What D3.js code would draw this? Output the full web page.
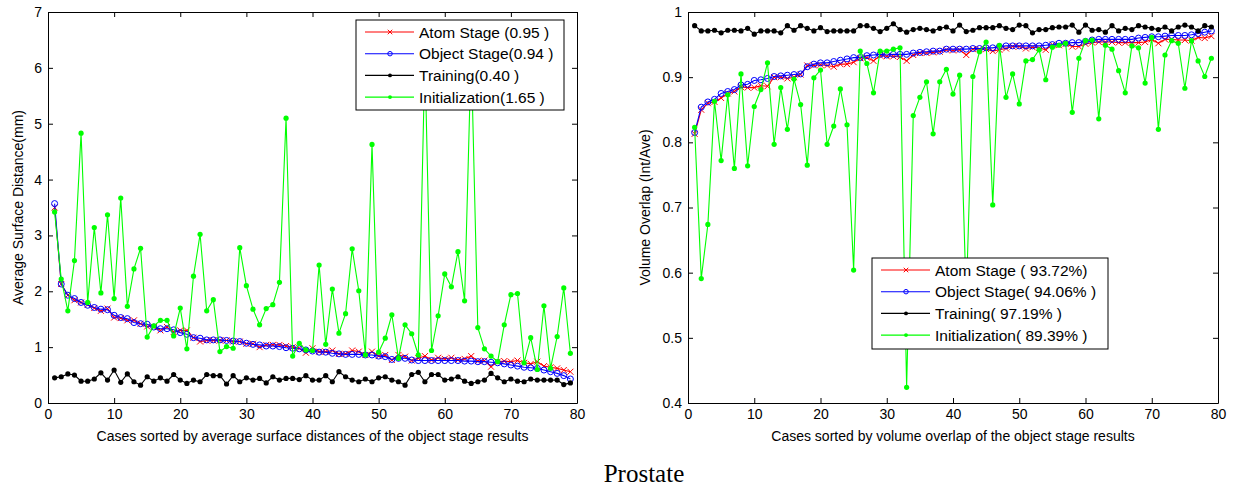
<!DOCTYPE html>
<meta charset="utf-8">
<script src="https://d3js.org/d3.v7.min.js"></script>
<style>
body { margin: 0; background: #fff; }
svg { display: block; }
text { font-family: Arial, 'Liberation Sans', sans-serif; fill: #000; }
.axis text { font-size: 14px; }
.axis path, .axis line { stroke: #000; }
.title { font-size: 14px; }
.legend text { font-size: 15.5px; }
.caption { font-family: 'Times New Roman', 'Liberation Serif', serif; font-size: 25px; }
</style>
<body>
<svg width="1236" height="486"></svg>
<script>
// case index 1..79
const cases = d3.range(1, 80);

// left panel: average surface distance (mm)
const asdAtom = [
  3.50, 2.13, 1.93, 1.84, 1.80, 1.76, 1.70, 1.65, 1.69, 1.53,
  1.52, 1.48, 1.48, 1.42, 1.37, 1.36, 1.30, 1.36, 1.27, 1.30,
  1.30, 1.17, 1.10, 1.12, 1.12, 1.12, 1.12, 1.10, 1.10, 1.06,
  1.06, 1.00, 1.04, 1.04, 1.04, 1.02, 1.00, 0.98, 0.90, 0.98,
  0.92, 0.92, 0.94, 0.88, 0.88, 0.94, 0.92, 0.86, 0.92, 0.84,
  0.86, 0.77, 0.86, 0.83, 0.76, 0.80, 0.84, 0.77, 0.81, 0.79,
  0.81, 0.77, 0.79, 0.84, 0.75, 0.76, 0.65, 0.74, 0.75, 0.74,
  0.76, 0.72, 0.70, 0.74, 0.66, 0.64, 0.62, 0.59, 0.56];
const asdObject = [
  3.57, 2.13, 1.93, 1.87, 1.80, 1.75, 1.71, 1.68, 1.67, 1.57,
  1.53, 1.51, 1.44, 1.42, 1.41, 1.36, 1.33, 1.33, 1.31, 1.26,
  1.23, 1.17, 1.16, 1.13, 1.13, 1.13, 1.12, 1.11, 1.10, 1.07,
  1.05, 1.04, 1.02, 1.02, 1.01, 0.99, 0.98, 0.97, 0.95, 0.93,
  0.91, 0.91, 0.89, 0.88, 0.87, 0.87, 0.87, 0.86, 0.86, 0.84,
  0.83, 0.78, 0.80, 0.80, 0.77, 0.76, 0.76, 0.76, 0.76, 0.76,
  0.76, 0.76, 0.75, 0.75, 0.74, 0.74, 0.73, 0.72, 0.70, 0.68,
  0.66, 0.64, 0.63, 0.62, 0.59, 0.56, 0.53, 0.49, 0.43];
const asdTraining = [
  0.45, 0.47, 0.52, 0.50, 0.39, 0.39, 0.43, 0.54, 0.41, 0.59,
  0.37, 0.52, 0.38, 0.32, 0.47, 0.39, 0.45, 0.39, 0.51, 0.41,
  0.35, 0.41, 0.38, 0.51, 0.49, 0.49, 0.34, 0.49, 0.38, 0.45,
  0.41, 0.44, 0.36, 0.47, 0.41, 0.44, 0.44, 0.42, 0.49, 0.41,
  0.41, 0.49, 0.38, 0.56, 0.47, 0.41, 0.38, 0.43, 0.38, 0.45,
  0.47, 0.41, 0.38, 0.32, 0.51, 0.55, 0.38, 0.51, 0.51, 0.41,
  0.43, 0.47, 0.39, 0.35, 0.38, 0.41, 0.53, 0.45, 0.38, 0.43,
  0.39, 0.38, 0.43, 0.41, 0.41, 0.41, 0.41, 0.33, 0.36];
const asdInit = [
  3.42, 2.22, 1.65, 2.55, 4.83, 1.80, 3.14, 1.97, 3.37, 1.87,
  3.67, 1.73, 2.40, 2.77, 1.18, 1.38, 1.48, 1.48, 1.20, 1.70,
  0.97, 2.27, 3.02, 1.65, 1.85, 0.92, 1.01, 0.98, 2.78, 2.10,
  1.68, 1.40, 1.69, 1.76, 2.16, 5.10, 0.84, 1.07, 0.95, 0.94,
  2.47, 1.05, 2.04, 1.25, 1.60, 2.76, 2.01, 0.86, 4.63, 0.91,
  1.16, 1.58, 0.80, 1.40, 1.24, 0.86, 6.20, 0.94, 1.56, 2.31,
  2.08, 2.71, 1.83, 6.30, 1.35, 0.97, 0.84, 0.74, 1.40, 1.94,
  1.96, 0.72, 1.17, 0.60, 1.74, 0.62, 1.19, 2.06, 0.89];

// right panel: volume overlap (Int/Ave)
const voAtom = [
  0.813, 0.850, 0.860, 0.862, 0.868, 0.875, 0.878, 0.885, 0.884, 0.884,
  0.887, 0.886, 0.900, 0.900, 0.898, 0.900, 0.904, 0.918, 0.918, 0.919,
  0.918, 0.916, 0.920, 0.920, 0.923, 0.929, 0.930, 0.925, 0.933, 0.932,
  0.932, 0.931, 0.925, 0.934, 0.937, 0.937, 0.938, 0.939, 0.942, 0.941,
  0.942, 0.934, 0.943, 0.943, 0.943, 0.940, 0.942, 0.944, 0.947, 0.947,
  0.944, 0.946, 0.945, 0.942, 0.950, 0.949, 0.951, 0.947, 0.947, 0.951,
  0.953, 0.954, 0.954, 0.954, 0.953, 0.953, 0.953, 0.953, 0.954, 0.958,
  0.952, 0.958, 0.958, 0.957, 0.957, 0.956, 0.961, 0.960, 0.963];
const voObject = [
  0.815, 0.854, 0.862, 0.866, 0.875, 0.878, 0.881, 0.888, 0.889, 0.895,
  0.896, 0.898, 0.901, 0.902, 0.903, 0.904, 0.905, 0.916, 0.920, 0.922,
  0.922, 0.924, 0.926, 0.928, 0.930, 0.930, 0.933, 0.934, 0.935, 0.934,
  0.935, 0.935, 0.935, 0.937, 0.938, 0.939, 0.940, 0.940, 0.943, 0.943,
  0.943, 0.943, 0.944, 0.944, 0.945, 0.945, 0.947, 0.948, 0.948, 0.948,
  0.948, 0.948, 0.948, 0.949, 0.950, 0.952, 0.952, 0.953, 0.953, 0.955,
  0.957, 0.958, 0.958, 0.958, 0.958, 0.958, 0.958, 0.960, 0.961, 0.962,
  0.962, 0.963, 0.964, 0.964, 0.964, 0.965, 0.967, 0.969, 0.971];
const voTraining = [
  0.979, 0.971, 0.971, 0.972, 0.968, 0.972, 0.972, 0.971, 0.975, 0.966,
  0.971, 0.971, 0.971, 0.968, 0.979, 0.972, 0.979, 0.975, 0.971, 0.976,
  0.970, 0.971, 0.971, 0.971, 0.971, 0.979, 0.979, 0.975, 0.970, 0.975,
  0.982, 0.973, 0.969, 0.973, 0.975, 0.973, 0.971, 0.975, 0.977, 0.971,
  0.980, 0.970, 0.972, 0.976, 0.976, 0.976, 0.979, 0.975, 0.973, 0.980,
  0.979, 0.968, 0.973, 0.973, 0.976, 0.977, 0.977, 0.980, 0.969, 0.980,
  0.972, 0.973, 0.969, 0.979, 0.971, 0.975, 0.973, 0.979, 0.977, 0.975,
  0.973, 0.977, 0.971, 0.977, 0.980, 0.977, 0.971, 0.979, 0.977];
const voInit = [
  0.823, 0.591, 0.674, 0.863, 0.772, 0.873, 0.760, 0.905, 0.764, 0.855,
  0.881, 0.922, 0.797, 0.884, 0.820, 0.897, 0.858, 0.765, 0.899, 0.911,
  0.797, 0.825, 0.882, 0.827, 0.604, 0.940, 0.921, 0.876, 0.940, 0.940,
  0.943, 0.945, 0.424, 0.841, 0.869, 0.893, 0.813, 0.893, 0.912, 0.874,
  0.903, 0.560, 0.901, 0.939, 0.954, 0.704, 0.949, 0.869, 0.905, 0.859,
  0.925, 0.927, 0.942, 0.896, 0.946, 0.949, 0.952, 0.846, 0.929, 0.956,
  0.957, 0.836, 0.949, 0.943, 0.910, 0.876, 0.948, 0.945, 0.891, 0.961,
  0.820, 0.934, 0.956, 0.952, 0.883, 0.956, 0.925, 0.901, 0.929];

const asdLegend = ['Atom Stage (0.95 )', 'Object Stage(0.94 )', 'Training(0.40 )', 'Initialization(1.65 )'];
const voLegend = ['Atom Stage ( 93.72%)', 'Object Stage( 94.06% )', 'Training( 97.19% )', 'Initialization( 89.39% )'];

const xTicks = [0, 10, 20, 30, 40, 50, 60, 70, 80];
const asdTicks = [0, 1, 2, 3, 4, 5, 6, 7];
const voTicks = [0.4, 0.5, 0.6, 0.7, 0.8, 0.9, 1];

const styles = [
  { color: '#ff0000', marker: 'x' },
  { color: '#0000ff', marker: 'o' },
  { color: '#000000', marker: 'dot' },
  { color: '#00ff00', marker: 'dot' }
];

const svg = d3.select('svg');
const plotTop = 12, plotBottom = 403;

function drawMarker(g, type, color, x, y, k) {
  k = k || 1;
  if (type === 'x') {
    const s = 3 * k;
    g.append('path')
      .attr('d', `M${x - s},${y - s}L${x + s},${y + s}M${x - s},${y + s}L${x + s},${y - s}`)
      .attr('stroke', color).attr('stroke-width', 1).attr('fill', 'none');
  } else if (type === 'o') {
    g.append('circle').attr('cx', x).attr('cy', y).attr('r', 3 * k)
      .attr('fill', 'none').attr('stroke', color).attr('stroke-width', 1);
  } else {
    g.append('circle').attr('cx', x).attr('cy', y).attr('r', 2.6 * k).attr('fill', color);
  }
}

function panel(cfg) {
  const x = d3.scaleLinear().domain([0, 80]).range([cfg.left, cfg.right]);
  const y = d3.scaleLinear().domain(cfg.yDomain).range([plotBottom, plotTop]);

  const g = svg.append('g');

  const clipId = 'clip' + cfg.left;
  svg.append('clipPath').attr('id', clipId).append('rect')
    .attr('x', cfg.left).attr('y', plotTop)
    .attr('width', cfg.right - cfg.left).attr('height', plotBottom - plotTop);

  const lines = g.append('g').attr('clip-path', `url(#${clipId})`);
  const line = d3.line().x((d, i) => x(cases[i])).y(d => y(d));

  cfg.series.forEach((values, k) => {
    const st = styles[k];
    lines.append('path')
      .datum(values)
      .attr('d', line)
      .attr('fill', 'none')
      .attr('stroke', st.color)
      .attr('stroke-width', 1.1);
    const mg = lines.append('g');
    values.forEach((v, i) => drawMarker(mg, st.marker, st.color, x(cases[i]), y(v)));
  });

  // axes, ticks pointing inward like MATLAB
  g.append('g').attr('class', 'axis')
    .attr('transform', `translate(0,${plotBottom})`)
    .call(d3.axisBottom(x).tickValues(xTicks).tickSizeInner(-5).tickSizeOuter(0).tickPadding(6));
  g.append('g').attr('class', 'axis')
    .attr('transform', `translate(0,${plotTop})`)
    .call(d3.axisTop(x).tickValues(xTicks).tickSizeInner(-5).tickSizeOuter(0).tickFormat(''));
  g.append('g').attr('class', 'axis')
    .attr('transform', `translate(${cfg.left},0)`)
    .call(d3.axisLeft(y).tickValues(cfg.yTicks).tickSizeInner(-5).tickSizeOuter(0).tickPadding(6)
      .tickFormat(cfg.yFormat));
  g.append('g').attr('class', 'axis')
    .attr('transform', `translate(${cfg.right},0)`)
    .call(d3.axisRight(y).tickValues(cfg.yTicks).tickSizeInner(-5).tickSizeOuter(0).tickFormat(''));

  g.selectAll('.axis text').attr('fill', '#000');

  g.append('text')
    .attr('class', 'title')
    .attr('x', (cfg.left + cfg.right) / 2)
    .attr('y', 441)
    .attr('text-anchor', 'middle')
    .text(cfg.xTitle);

  g.append('text')
    .attr('class', 'title')
    .attr('transform', `translate(${cfg.yTitleX},${(plotTop + plotBottom) / 2}) rotate(-90)`)
    .attr('dy', '0.35em')
    .attr('text-anchor', 'middle')
    .text(cfg.yTitle);

  // legend
  const lg = g.append('g').attr('class', 'legend');
  const L = cfg.legend;
  lg.append('rect')
    .attr('x', L.x).attr('y', L.y).attr('width', L.w).attr('height', L.h)
    .attr('fill', '#fff').attr('stroke', '#000').attr('stroke-width', 1);
  cfg.labels.forEach((lab, k) => {
    const st = styles[k];
    const ry = L.y + 12 + k * 21.7;
    lg.append('line')
      .attr('x1', L.x + 9).attr('x2', L.x + 58)
      .attr('y1', ry).attr('y2', ry)
      .attr('stroke', st.color).attr('stroke-width', 1.1);
    drawMarker(lg, st.marker, st.color, L.x + 34, ry, 0.75);
    lg.append('text')
      .attr('x', L.x + 63).attr('y', ry)
      .attr('dy', '0.36em')
      .text(lab);
  });
}

panel({
  left: 48, right: 577,
  yDomain: [0, 7], yTicks: asdTicks, yFormat: d3.format('d'),
  series: [asdAtom, asdObject, asdTraining, asdInit],
  labels: asdLegend,
  legend: { x: 356, y: 20, w: 208, h: 90 },
  xTitle: 'Cases sorted by average surface distances of the object stage results',
  yTitle: 'Average Surface Distance(mm)', yTitleX: 18
});

panel({
  left: 688, right: 1218,
  yDomain: [0.4, 1], yTicks: voTicks, yFormat: d => d === 1 ? '1' : d3.format('.1f')(d),
  series: [voAtom, voObject, voTraining, voInit],
  labels: voLegend,
  legend: { x: 872, y: 258, w: 236, h: 91 },
  xTitle: 'Cases sorted by volume overlap of the object stage results',
  yTitle: 'Volume Overlap (Int/Ave)', yTitleX: 645
});

svg.append('text')
  .attr('class', 'caption')
  .attr('x', 644).attr('y', 482)
  .attr('text-anchor', 'middle')
  .text('Prostate');
</script>
</body>
